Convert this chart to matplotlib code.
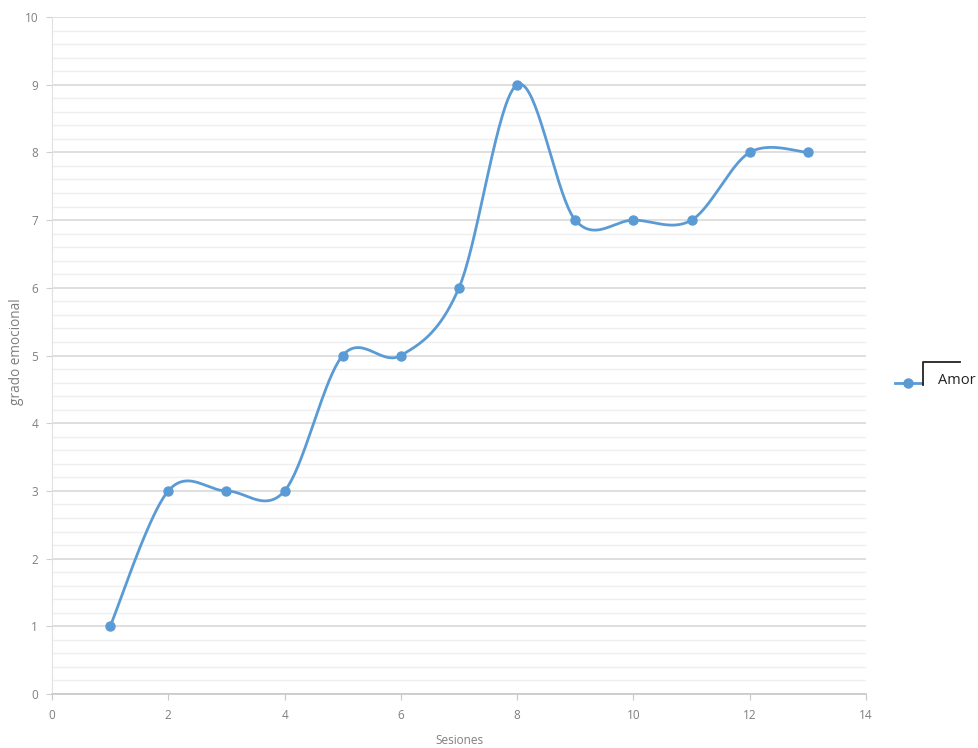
import numpy as np
import matplotlib
matplotlib.use("Agg")
import matplotlib.pyplot as plt
from matplotlib.lines import Line2D
from matplotlib.ticker import MultipleLocator

sesiones = [1, 2, 3, 4, 5, 6, 7, 8, 9, 10, 11, 12, 13]
amor = [1, 3, 3, 3, 5, 5, 6, 9, 7, 7, 7, 8, 8]
serie_nombre = "Amor"
x_label = "Sesiones"
y_label = "grado emocional"

BLUE = "#5B9BD5"
TICK_GRAY = "#7f7f7f"


def smooth_curve(xs, ys, steps=40):
    # Bezier segments with Catmull-Rom style control points (office "smoothed line")
    p = np.column_stack([xs, ys]).astype(float)
    n = len(p)
    out = []
    t = np.linspace(0, 1, steps)[:, None]
    for i in range(n - 1):
        p_prev = p[max(i - 1, 0)]
        p0, p1 = p[i], p[i + 1]
        p_next = p[min(i + 2, n - 1)]
        c1 = p0 + (p1 - p_prev) / 6.0
        c2 = p1 - (p_next - p0) / 6.0
        seg = ((1 - t) ** 3) * p0 + 3 * ((1 - t) ** 2) * t * c1 + 3 * (1 - t) * t ** 2 * c2 + t ** 3 * p1
        out.append(seg if i == 0 else seg[1:])
    pts = np.vstack(out)
    return pts[:, 0], pts[:, 1]


def fx(px):
    return px / 979


def fy(py):
    return 1 - py / 748


plt.rcParams["font.family"] = ["Open Sans", "DejaVu Sans"]

fig = plt.figure(figsize=(9.79, 7.48), dpi=100)
ax = fig.add_axes([fx(52), fy(694), fx(866) - fx(52), fy(17) - fy(694)])

ax.set_xlim(0, 14)
ax.set_ylim(0, 10)
ax.xaxis.set_major_locator(MultipleLocator(2))
ax.yaxis.set_major_locator(MultipleLocator(1))
ax.yaxis.set_minor_locator(MultipleLocator(0.2))

ax.grid(axis="y", which="major", color="#d9d9d9", linewidth=1.2)
ax.grid(axis="y", which="minor", color="#efefef", linewidth=1.0)
ax.set_axisbelow(True)

for side in ("top", "right"):
    ax.spines[side].set_visible(False)
ax.spines["left"].set_color("#e0e0e0")
ax.spines["bottom"].set_color("#c8c8c8")
ax.spines["bottom"].set_linewidth(1.2)

ax.tick_params(axis="y", which="major", length=4, color="#d0d0d0", labelcolor=TICK_GRAY,
               labelsize=8.5, pad=6)
ax.tick_params(axis="y", which="minor", length=0)
ax.tick_params(axis="x", which="major", length=4, color="#c8c8c8", labelcolor=TICK_GRAY,
               labelsize=8.5, pad=7)

sx, sy = smooth_curve(sesiones, amor)
ax.plot(sx, sy, color=BLUE, linewidth=2.0, solid_capstyle="round", zorder=3)
ax.plot(sesiones, amor, linestyle="none", marker="o", markersize=6.5,
        color=BLUE, zorder=4)

# axis titles placed in figure pixels so they stay inside the canvas
fig.text(fx(459), fy(741), x_label, color=TICK_GRAY, fontsize=8.5,
         ha="center", va="center")
fig.text(fx(17), fy(352), y_label, color=TICK_GRAY, fontsize=9.8,
         ha="center", va="center", rotation=90)

# legend entry drawn by hand at the right side
fig.add_artist(Line2D([fx(895), fx(922)], [fy(383), fy(383)], color=BLUE, linewidth=2.0))
fig.add_artist(Line2D([fx(908)], [fy(383)], marker="o", markersize=6.5, color=BLUE,
                      linestyle="none"))
fig.add_artist(Line2D([fx(923), fx(923), fx(960)], [fy(385), fy(362), fy(362)],
                      color="#222222", linewidth=1.3))
fig.text(fx(938), fy(381), serie_nombre, fontsize=10.5, color="#222222", va="center")

fig.savefig("out.png", dpi=100)
